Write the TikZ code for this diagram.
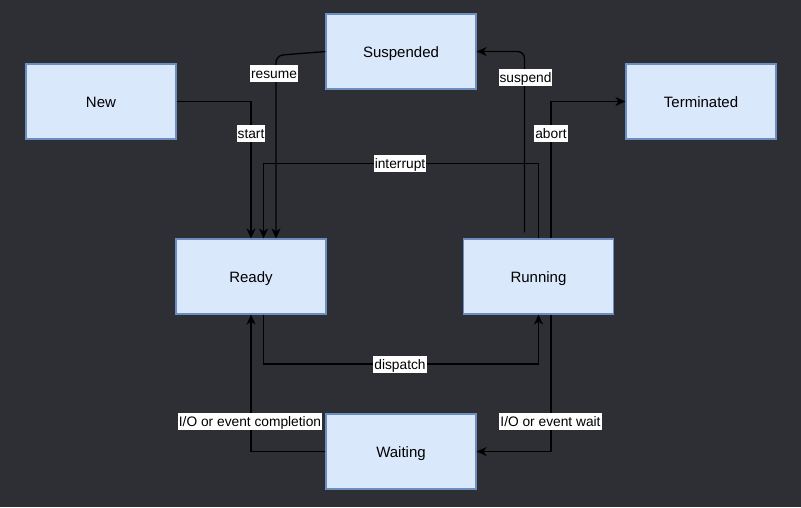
\documentclass[tikz,border=0pt]{standalone}
\usepackage{fontspec}
\setmainfont{Liberation Sans}
\usetikzlibrary{arrows.meta}
\definecolor{bg}{RGB}{45,47,52}
\definecolor{boxfill}{HTML}{DAE8FC}
\definecolor{boxline}{HTML}{6C8EBF}
\tikzset{
  state/.style={draw=boxline, fill=boxfill, line width=1.25pt, minimum width=150pt, minimum height=75pt, inner sep=0pt, text height=11pt, text depth=0pt, font=\fontsize{15}{18}\selectfont, text=black},
  conn/.style={draw=black, line width=1.3pt, -{Stealth[length=10pt,width=9pt,inset=3pt]}},
  lbl/.style={fill=white, inner sep=1pt, text height=12.5pt, text depth=2.5pt, font=\fontsize{13.75}{16}\selectfont, text=black}
}
\begin{document}
\begin{tikzpicture}[x=1pt,y=-1pt]
\fill[bg] (0,0) rectangle (801,507);
\useasboundingbox (0,0) rectangle (801,507);
\node[state] (Suspended) at (401,51.5) {Suspended};
\node[state] (New) at (101,101.5) {New};
\node[state] (Terminated) at (701,101.5) {Terminated};
\node[state] (Ready) at (251,276.5) {Ready};
\node[state] (Running) at (538.5,276.5) {Running};
\node[state] (Waiting) at (401,451.5) {Waiting};
\coordinate (intY) at (400,163.5);
\coordinate (dispY) at (400,364);
\coordinate (resC) at (276,55.5);
% start
\draw[conn] (New.east) -| (Ready.north);
\node[lbl] (lstart) at (251,133) {start};
% resume
\draw[conn, rounded corners=7pt] (Suspended.west) -- (resC) -- ([xshift=25pt]Ready.north);
\node[lbl] (lresume) at (274,73) {resume};
% interrupt
\draw[conn] (Running.north) |- (intY) -| ([xshift=12.5pt]Ready.north);
\node[lbl] (lint) at (intY) {interrupt};
% suspend
\draw[conn, rounded corners=7pt] ([xshift=-14pt,yshift=6pt]Running.north) |- (Suspended.east);
\node[lbl] (lsusp) at (525.5,77) {suspend};
% abort
\draw[conn] ([xshift=12.5pt]Running.north) |- (Terminated.west);
\node[lbl] (labort) at (551,133) {abort};
% dispatch
\draw[conn] ([xshift=12.5pt]Ready.south) |- (dispY) -| (Running.south);
\node[lbl] (ldisp) at (dispY) {dispatch};
% completion
\draw[conn] (Waiting.west) -| (Ready.south);
\node[lbl] (lcomp) at (250,421) {I/O or event completion};
% wait
\draw[conn] ([xshift=12.5pt]Running.south) |- (Waiting.east);
\node[lbl] (lwait) at (550.5,421) {I/O or event wait};
\end{tikzpicture}
\end{document}
